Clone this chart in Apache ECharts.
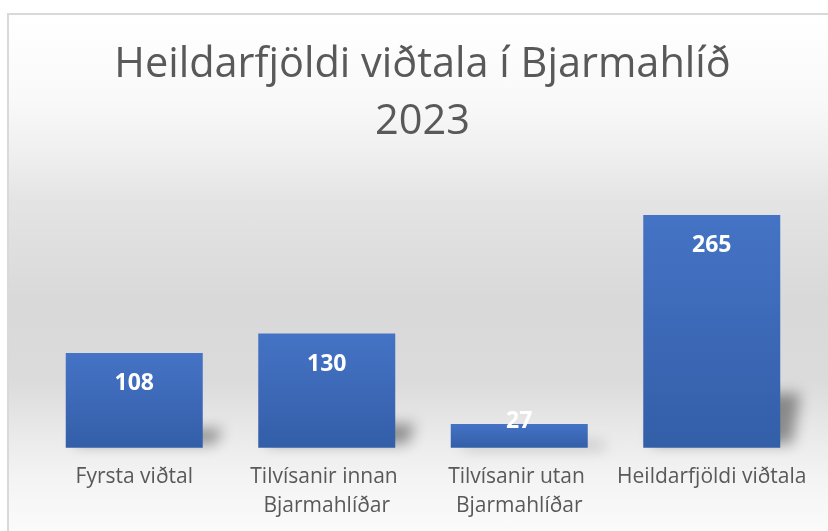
<!DOCTYPE html>
<html>
<head>
<meta charset="utf-8">
<script src="https://cdn.jsdelivr.net/npm/echarts@6/dist/echarts.min.js"></script>
<style>
  html, body { margin: 0; padding: 0; background: #fff; }
  #frame {
    position: absolute; left: 7px; top: 13px; width: 840px; height: 540px;
    border: 2px solid #d9d9d9; box-sizing: border-box;
    background: linear-gradient(to bottom,
      #ffffff 0px, #f9f9f9 85px, #f0f0f0 135px, #e4e4e4 185px,
      #d9d9d9 285px, #dbdbdb 365px, #ebebeb 425px, #f4f4f4 465px, #fbfbfb 518px);
  }
  #chart { position: absolute; left: 0; top: 0; width: 828px; height: 531px; }
</style>
</head>
<body>
<div id="frame"></div>
<div id="chart"></div>
<script>
var titleLines = ["Heildarfjöldi viðtala í Bjarmahlíð", "2023"];
var categories = ["Fyrsta viðtal", "Tilvísanir innan Bjarmahlíðar", "Tilvísanir utan Bjarmahlíðar", "Heildarfjöldi viðtala"];
var values = [108, 130, 27, 265];

var font = "'Open Sans', 'Noto Sans', sans-serif";
var chart = echarts.init(document.getElementById("chart"), null, { renderer: "canvas" });

// short bars get their label pushed up over the top edge, like excel does
var barData = values.map(function (v) {
    if (v < 40) {
        return { value: v, label: { position: "top", distance: -9 } };
    }
    return v;
});

var OFF = 2000; // shape drawn off screen, only its blurred shadow lands on the chart

var option = {
    backgroundColor: "transparent",
    animation: false,
    graphic: [{
        type: "text",
        x: 422.5,
        y: 37,
        z: 10,
        style: {
            text: titleLines.join("\n"),
            fill: "#595959",
            font: "41.5px " + font,
            lineHeight: 57,
            align: "center",
            verticalAlign: "top"
        }
    }],
    grid: { left: 38, right: 20, top: 184.3, bottom: 83.3, outerBoundsMode: "none", containLabel: false },
    xAxis: {
        type: "category",
        data: categories,
        axisLine: { show: false },
        axisTick: { show: false },
        axisLabel: {
            interval: 0,
            color: "#595959",
            fontFamily: font,
            fontSize: 21,
            lineHeight: 29,
            margin: 15,
            width: 250,
            overflow: "break"
        }
    },
    yAxis: {
        type: "value",
        min: 0,
        max: 300,
        show: false,
        splitLine: { show: false }
    },
    series: [
        {
            // soft perspective shadow behind each bar
            type: "custom",
            z: 1,
            silent: true,
            data: values.map(function (v, i) { return [i, v]; }),
            renderItem: function (params, api) {
                var base = api.coord([api.value(0), 0]);
                var top = api.coord([api.value(0), api.value(1)]);
                var h = (base[1] - top[1]) * 0.26;
                var x0 = base[0] - 68.5 - OFF, x1 = base[0] + 68.5 - OFF;
                var b = base[1] - 4;
                return {
                    type: "polygon",
                    shape: { points: [[x0 + 8, b], [x1 + 12, b], [x1 + 20, base[1] - h + 6], [x0 + 16, base[1] - h + 6]] },
                    style: {
                        fill: "#000",
                        shadowBlur: 14,
                        shadowOffsetX: OFF,
                        shadowColor: "rgba(0,0,0,0.4)"
                    }
                };
            }
        },
        {
            type: "bar",
            z: 3,
            data: barData,
            barWidth: 137,
            itemStyle: {
                color: new echarts.graphic.LinearGradient(0, 0, 0, 1, [
                    { offset: 0, color: "#4573c5" },
                    { offset: 1, color: "#335ea8" }
                ])
            },
            label: {
                show: true,
                position: "insideTop",
                distance: 19,
                color: "#ffffff",
                fontFamily: font,
                fontWeight: "bold",
                fontSize: 23
            }
        }
    ]
};

chart.setOption(option);
</script>
</body>
</html>
